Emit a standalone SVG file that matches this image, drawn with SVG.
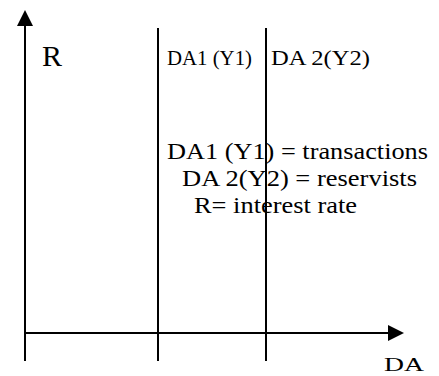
<svg xmlns="http://www.w3.org/2000/svg" width="439" height="376" viewBox="0 0 439 376">
  <style>
    .ln { stroke: #000; stroke-width: 2; fill: none; }
    .ah { fill: #000; stroke: none; }
    text { font-family: "Liberation Serif", "Tinos", "Times New Roman", "DejaVu Serif", serif; fill: #000; }
  </style>
  <rect width="439" height="376" fill="#fff"/>
  <g id="connectors">
    <!-- vertical axis R -->
    <line class="ln" x1="25" y1="22" x2="25" y2="361"/>
    <polygon class="ah" points="25,10 17,26 33,26"/>
    <!-- horizontal axis DA -->
    <line class="ln" x1="25" y1="333" x2="392" y2="333"/>
    <polygon class="ah" points="404,333 388,325 388,341"/>
    <!-- demand lines -->
    <line class="ln" x1="158" y1="28" x2="158" y2="361"/>
    <line class="ln" x1="266" y1="28" x2="266" y2="361"/>
  </g>
  <g id="label-R">
    <text x="42" y="66" font-size="30">R</text>
  </g>
  <g id="label-DA1">
    <text x="167" y="65" font-size="21" textLength="85" lengthAdjust="spacingAndGlyphs">DA1 (Y1)</text>
  </g>
  <g id="label-DA2">
    <text x="271" y="65" font-size="21" textLength="99" lengthAdjust="spacingAndGlyphs">DA 2(Y2)</text>
  </g>
  <g id="legend">
    <text x="167" y="159" font-size="24" textLength="261" lengthAdjust="spacingAndGlyphs">DA1 (Y1) = transactions</text>
    <text x="182" y="186" font-size="24" textLength="235" lengthAdjust="spacingAndGlyphs">DA 2(Y2) = reservists</text>
    <text x="194" y="213" font-size="24" textLength="163" lengthAdjust="spacingAndGlyphs">R= interest rate</text>
  </g>
  <g id="label-DA">
    <text x="384" y="371" font-size="19" textLength="40" lengthAdjust="spacingAndGlyphs">DA</text>
  </g>
</svg>
